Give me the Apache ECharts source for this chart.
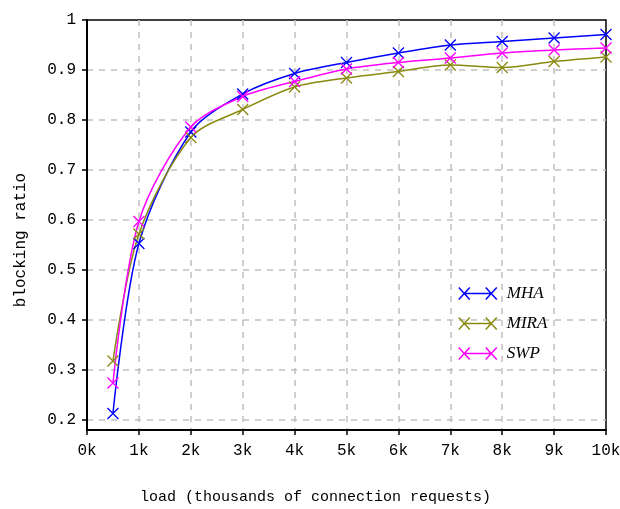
<!DOCTYPE html>
<html>
<head>
<meta charset="utf-8">
<script src="https://cdn.jsdelivr.net/npm/echarts@6/dist/echarts.min.js"></script>
<style>
  html, body { margin: 0; padding: 0; background: #fff; }
  #chart { width: 620px; height: 509px; }
</style>
</head>
<body>
<div id="chart"></div>
<script>
// load in thousands of connection requests
const Data_Load = [0.5, 1, 2, 3, 4, 5, 6, 7, 8, 9, 10];
const Data_MHA  = [0.213, 0.553, 0.776, 0.852, 0.893, 0.915, 0.934, 0.950, 0.957, 0.964, 0.971];
const Data_MIRA = [0.318, 0.572, 0.765, 0.821, 0.866, 0.884, 0.897, 0.910, 0.905, 0.917, 0.926];
const Data_SWP  = [0.274, 0.597, 0.786, 0.847, 0.877, 0.902, 0.915, 0.924, 0.934, 0.940, 0.944];
const Series_Names = ['MHA', 'MIRA', 'SWP'];

function pairs(ys) {
  return Data_Load.map((x, i) => [x, ys[i]]);
}

function renderChart() {
  const dom = document.getElementById("chart");
  const chart = echarts.init(dom);
  const cross = 'path://M0,0L10,10M10,0L0,10';
  // legend icon: line with a cross at both ends
  const legendIcon = 'path://M0,0L11,12M11,0L0,12M5.5,6L32.5,6M27,0L38,12M38,0L27,12';
  const mono = 'Liberation Mono';
  const mk = (name, data, color) => ({
    name: name,
    type: 'line',
    data: pairs(data),
    smooth: 0.3,
    symbol: cross,
    symbolSize: 11,
    showAllSymbol: true,
    lineStyle: { color: color, width: 1.5 },
    itemStyle: { color: color, borderColor: color, borderWidth: 1.3 }
  });
  const option = {
    backgroundColor: '#fff',
    animation: false,
    textStyle: { fontFamily: mono },
    grid: {
      left: 87,
      right: 14,
      top: 20,
      bottom: 79,
      outerBoundsMode: 'none',
      show: true,
      borderColor: '#000',
      borderWidth: 1.5
    },
    legend: {
      data: Series_Names,
      orient: 'vertical',
      left: 453,
      top: 280,
      icon: legendIcon,
      itemWidth: 38,
      itemHeight: 12,
      itemGap: 13,
      itemStyle: { borderWidth: 1.5 },
      textStyle: {
        fontFamily: 'Liberation Serif',
        fontStyle: 'italic',
        fontSize: 17,
        color: '#000',
        padding: [0, 0, 0, 5]
      }
    },
    xAxis: {
      type: 'value',
      min: 0,
      max: 10,
      interval: 1,
      name: 'load (thousands of connection requests)',
      nameLocation: 'middle',
      nameGap: 60,
      nameTextStyle: { fontSize: 15, color: '#000', fontFamily: mono, padding: [0, 62, 0, 0] },
      axisLine: { lineStyle: { color: '#000', width: 2 } },
      axisTick: { inside: false, length: 5, lineStyle: { color: '#000', width: 1.5 } },
      axisLabel: {
        margin: 13,
        fontSize: 16,
        color: '#000',
        formatter: v => v + 'k'
      },
      splitLine: {
        showMaxLine: false,
        lineStyle: { color: '#c0c0c0', type: [6, 6], width: 1.5 }
      }
    },
    yAxis: {
      type: 'value',
      min: 0.18,
      max: 1,
      splitNumber: 8,
      name: 'blocking ratio',
      nameLocation: 'middle',
      nameGap: 58,
      nameTextStyle: { fontSize: 16, color: '#000', fontFamily: mono, padding: [0, 30, 0, 0] },
      axisLine: { show: true, lineStyle: { color: '#000', width: 2 } },
      axisTick: { show: true, length: 5, lineStyle: { color: '#000', width: 1.5 } },
      axisLabel: {
        margin: 11,
        fontSize: 16,
        color: '#000',
        showMinLabel: false,
        formatter: v => (Math.abs(v - 1) < 1e-6 ? '1' : v.toFixed(1))
      },
      splitLine: {
        showMaxLine: false,
        lineStyle: { color: '#c0c0c0', type: [6, 6], width: 1.5 }
      }
    },
    series: [
      mk('MHA', Data_MHA, '#0000ff'),
      mk('MIRA', Data_MIRA, '#8a8a10'),
      mk('SWP', Data_SWP, '#ff00ff')
    ]
  };
  chart.setOption(option, true);
}
renderChart();
</script>
</body>
</html>
